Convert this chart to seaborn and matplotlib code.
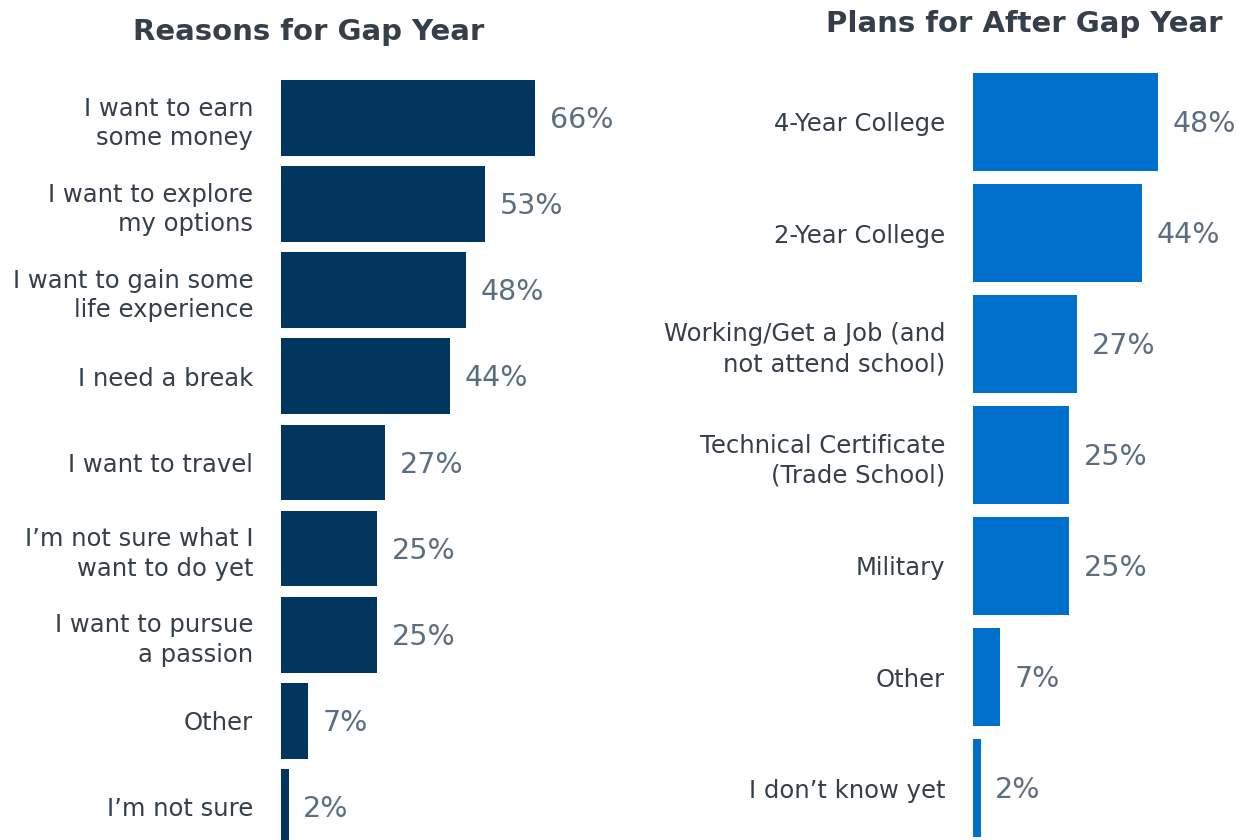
import matplotlib
matplotlib.use("Agg")
import matplotlib.pyplot as plt
import seaborn as sns
import pandas as pd

# Survey results
reasons = [
    "I want to earn\nsome money",
    "I want to explore\nmy options",
    "I want to gain some\nlife experience",
    "I need a break",
    "I want to travel",
    "I\u2019m not sure what I\nwant to do yet",
    "I want to pursue\na passion",
    "Other",
    "I\u2019m not sure",
]
reason_pct = [66, 53, 48, 44, 27, 25, 25, 7, 2]

plans = [
    "4-Year College",
    "2-Year College",
    "Working/Get a Job (and\nnot attend school)",
    "Technical Certificate\n(Trade School)",
    "Military",
    "Other",
    "I don\u2019t know yet",
]
plan_pct = [48, 44, 27, 25, 25, 7, 2]

sns.set_theme(style="white")
plt.rcParams["font.family"] = ["DejaVu Sans"]

LABEL_COLOR = "#343F4A"
VALUE_COLOR = "#5B6E80"
W, H = 1238, 840

fig = plt.figure(figsize=(W / 100, H / 100), dpi=100)


def px_axes(x0, y0, x1, y1):
    return fig.add_axes([x0 / W, 1 - y1 / H, (x1 - x0) / W, (y1 - y0) / H])


def draw_panel(ax, cats, vals, color, xmax, ylim, title, title_xy, title_ha):
    df = pd.DataFrame({"cat": cats, "pct": vals})
    sns.barplot(data=df, x="pct", y="cat", orient="h", color=color,
                width=0.88, saturation=1, ax=ax, linewidth=0)
    ax.set_xlim(0, xmax)
    ax.set_ylim(*ylim)
    ax.set_xlabel("")
    ax.set_ylabel("")
    ax.set_xticks([])
    ax.tick_params(axis="y", length=0, pad=20, labelsize=17.5, labelcolor=LABEL_COLOR)
    for lbl in ax.get_yticklabels():
        lbl.set_multialignment("right")
        lbl.set_linespacing(1.3)
    for s in ax.spines.values():
        s.set_visible(False)
    for i, v in enumerate(vals):
        ax.annotate(f"{v}%", xy=(v, i), xytext=(10.5, -1.5), textcoords="offset points",
                    ha="left", va="center", fontsize=20.5, color=VALUE_COLOR)
    fig.text(title_xy[0] / W, 1 - title_xy[1] / H, title, ha=title_ha, va="center",
             fontsize=21, fontweight="bold", color=LABEL_COLOR)


# Both panels share the same scale: 3.85 px per percentage point
ax1 = px_axes(281, 75, 620, 840)
draw_panel(ax1, reasons, reason_pct, "#00365F", (620 - 281) / 3.85,
           (8.5 - 10 / 86.2, -0.5), "Reasons for Gap Year", (309, 32), "center")

ax2 = px_axes(973, 66.5, 1238, 840)
draw_panel(ax2, plans, plan_pct, "#0070CC", (1238 - 973) / 3.85,
           (6.5 - 3.5 / 111, -0.5), "Plans for After Gap Year", (1222, 24), "right")

fig.savefig("out.png", dpi=100)
